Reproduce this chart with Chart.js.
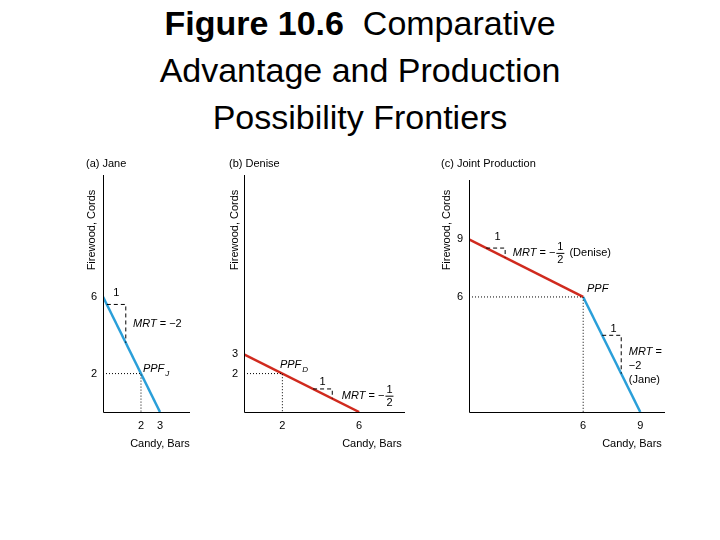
<!DOCTYPE html>
<html lang="en">
<head>
<meta charset="UTF-8">
<title>Figure 10.6</title>
<script src="https://cdn.jsdelivr.net/npm/chart.js"></script>
<style>
    body { margin: 0; background: #fff; width: 720px; height: 540px; overflow: hidden; font-family: "Liberation Sans", Arial, sans-serif; }
    #title { position: absolute; top: 0; left: 0; width: 720px; text-align: center; font-size: 34px; line-height: 47px; color: #000; }
    canvas { position: absolute; left: 0; top: 0; }
</style>
</head>
<body>
<div id="title"><b>Figure 10.6</b>&nbsp; Comparative<br>Advantage and Production<br>Possibility Frontiers</div>
<canvas id="cA" width="720" height="540"></canvas>
<canvas id="cB" width="720" height="540"></canvas>
<canvas id="cC" width="720" height="540"></canvas>
<script>
const BLUE = '#2a9fd9', RED = '#d02a1e';

// panel data
const janePPF = [[0, 6], [3, 0]];
const janeStep = [[0.2, 5.6], [1.2, 5.6], [1.2, 3.6]];
const janeGuide = [[0, 2], [2, 2], [2, 0]];
const janeXTicks = [2, 3], janeYTicks = [6, 2];

const denisePPF = [[0, 3], [6, 0]];
const deniseStep = [[3.6, 1.2], [4.6, 1.2], [4.6, 0.7]];
const deniseGuide = [[0, 2], [2, 2], [2, 0]];
const deniseXTicks = [2, 6], deniseYTicks = [3, 2];

const jointRed = [[0, 9], [6, 6]];
const jointBlue = [[6, 6], [9, 0]];
const jointStepTop = [[0.9, 8.55], [1.9, 8.55], [1.9, 8.05]];
const jointStepBot = [[7, 4], [8, 4], [8, 2]];
const jointGuide = [[0, 6], [6, 6], [6, 0]];
const jointXTicks = [6, 9], jointYTicks = [9, 6];

function pts(a) { return a.map(p => ({ x: p[0], y: p[1] })); }
function line(d, color, width, dash) {
    return { data: pts(d), showLine: true, borderColor: color, borderWidth: width, borderDash: dash || [], pointRadius: 0, fill: false };
}

const FONT = '11px "Liberation Sans", Arial, sans-serif';
const IFONT = 'italic 11px "Liberation Sans", Arial, sans-serif';

function drawFrac(ctx, x, y) {
    ctx.textAlign = 'center';
    ctx.fillText('1', x + 4, y - 6);
    ctx.fillText('2', x + 4, y + 7);
    ctx.beginPath(); ctx.moveTo(x, y + 0.5); ctx.lineTo(x + 8, y + 0.5); ctx.lineWidth = 1; ctx.stroke();
    ctx.textAlign = 'left';
}

function makePanel(id, pad, xMax, yMax, datasets, cfg) {
    const deco = {
        id: 'deco',
        afterDraw(chart) {
            const ctx = chart.ctx, xs = chart.scales.x, ys = chart.scales.y;
            const X = v => xs.getPixelForValue(v), Y = v => ys.getPixelForValue(v);
            ctx.save();
            ctx.strokeStyle = '#000'; ctx.fillStyle = '#000'; ctx.lineWidth = 1;
            ctx.beginPath();
            ctx.moveTo(X(0) + 0.5, ys.top); ctx.lineTo(X(0) + 0.5, Y(0) + 0.5); ctx.lineTo(xs.right, Y(0) + 0.5);
            ctx.stroke();
            ctx.font = FONT;
            ctx.textAlign = 'right'; ctx.textBaseline = 'middle';
            cfg.yTicks.forEach(v => ctx.fillText(String(v), X(0) - 6, Y(v)));
            ctx.textAlign = 'center'; ctx.textBaseline = 'top';
            cfg.xTicks.forEach(v => ctx.fillText(String(v), X(v), Y(0) + 8));
            ctx.fillText('Candy, Bars', cfg.xTitleX, Y(0) + 26);
            ctx.textAlign = 'left'; ctx.textBaseline = 'middle';
            ctx.fillText(cfg.title, cfg.titleX, 164);
            ctx.save();
            ctx.translate(cfg.yTitleX, 230); ctx.rotate(-Math.PI / 2);
            ctx.textAlign = 'center'; ctx.fillText('Firewood, Cords', 0, 0);
            ctx.restore();
            cfg.labels.forEach(l => {
                const px = X(l[0]), py = Y(l[1]);
                if (l[2] === 'one') { ctx.font = FONT; ctx.textAlign = 'center'; ctx.fillText('1', px, py); ctx.textAlign = 'left'; }
                else if (l[2] === 'text') { ctx.font = FONT; ctx.fillText(l[3], px, py); }
                else if (l[2] === 'ppf') {
                    ctx.font = IFONT; ctx.fillText('PPF', px, py);
                    if (l[3]) { const w = ctx.measureText('PPF').width; ctx.font = 'italic 8px "Liberation Sans", Arial'; ctx.fillText(l[3], px + w + 1, py + 5); }
                } else if (l[2] === 'mrtHalf') {
                    ctx.font = IFONT; ctx.fillText('MRT', px, py);
                    let w = ctx.measureText('MRT').width;
                    ctx.font = FONT; ctx.fillText(' = \u2212', px + w, py);
                    w += ctx.measureText(' = \u2212').width;
                    drawFrac(ctx, px + w + 1, py);
                    if (l[3]) ctx.fillText(l[3], px + w + 11, py);
                } else {
                    ctx.font = IFONT; ctx.fillText('MRT', px, py);
                    const w = ctx.measureText('MRT').width;
                    ctx.font = FONT; ctx.fillText(l[3], px + w, py);
                }
            });
            ctx.restore();
        }
    };
    new Chart(document.getElementById(id), {
        type: 'scatter',
        data: { datasets: datasets },
        options: {
            responsive: false, animation: false,
            layout: { padding: pad },
            plugins: { legend: { display: false }, tooltip: { enabled: false } },
            scales: {
                x: { display: false, min: 0, max: xMax },
                y: { display: false, min: 0, max: yMax }
            }
        },
        plugins: [deco]
    });
}

makePanel('cA', { left: 103, top: 175, right: 720 - 190, bottom: 540 - 412 }, 4.58, 12.34, [
    line(janeGuide, '#000', 1, [1, 2]),
    line(janeStep, '#000', 1, [4, 3]),
    line(janePPF, BLUE, 2.5)
], { xTicks: janeXTicks, yTicks: janeYTicks, title: '(a) Jane', titleX: 86, xTitleX: 160, yTitleX: 92,
     labels: [[0.7, 6.2, 'one'], [1.58, 4.6, 'mrt', ' = \u22122'], [2.1, 2.25, 'ppf', 'J']] });

makePanel('cB', { left: 244, top: 175, right: 720 - 405, bottom: 540 - 412 }, 8.39, 12.34, [
    line(deniseGuide, '#000', 1, [1, 2]),
    line(deniseStep, '#000', 1, [4, 3]),
    line(denisePPF, RED, 2.5)
], { xTicks: deniseXTicks, yTicks: deniseYTicks, title: '(b) Denise', titleX: 229, xTitleX: 372, yTitleX: 235,
     labels: [[4.1, 1.55, 'one'], [5.1, 0.85, 'mrtHalf'], [1.87, 2.45, 'ppf', 'D']] });

makePanel('cC', { left: 469, top: 180, right: 720 - 665, bottom: 540 - 412 }, 10.3, 12.1, [
    line(jointGuide, '#000', 1, [1, 2]),
    line(jointStepTop, '#000', 1, [4, 3]),
    line(jointStepBot, '#000', 1, [4, 3]),
    line(jointRed, RED, 2.5),
    line(jointBlue, BLUE, 2.5)
], { xTicks: jointXTicks, yTicks: jointYTicks, title: '(c) Joint Production', titleX: 441, xTitleX: 632, yTitleX: 447,
     labels: [[1.5, 9.15, 'one'], [2.3, 8.3, 'mrtHalf', ' (Denise)'], [6.2, 6.4, 'ppf'],
              [7.6, 4.35, 'one'], [8.4, 3.15, 'mrt', ' ='], [8.4, 2.4, 'text', '\u22122'], [8.4, 1.65, 'text', '(Jane)']] });
</script>
</body>
</html>
